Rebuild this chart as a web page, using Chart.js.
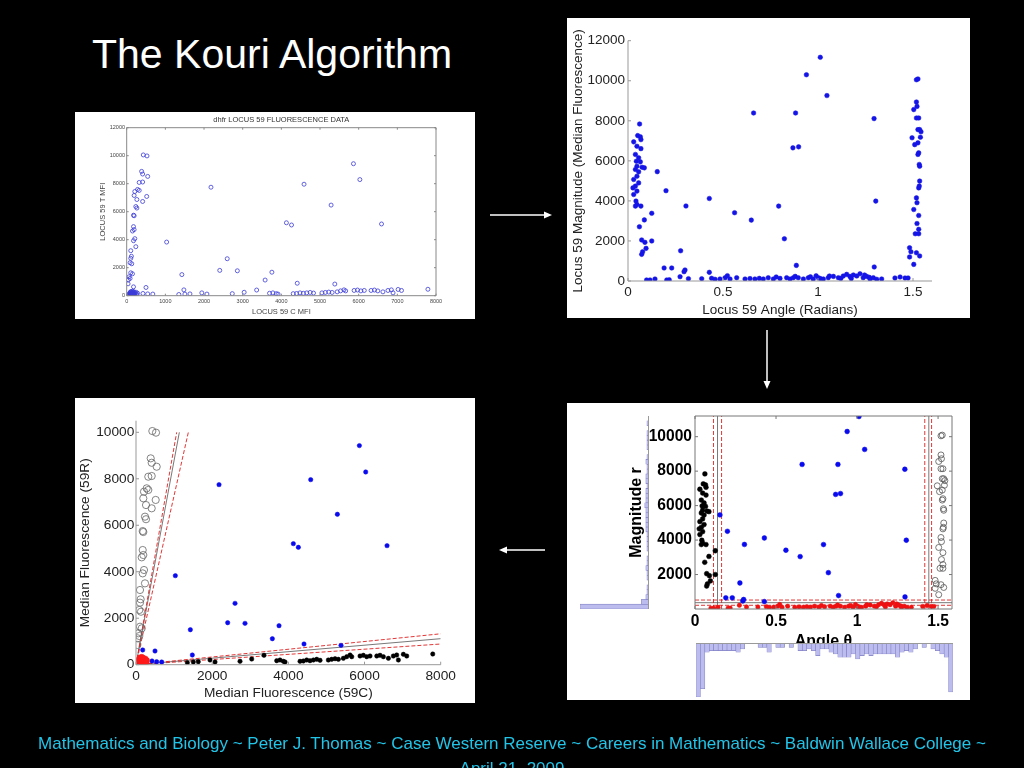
<!DOCTYPE html>
<html>
<head>
<meta charset="utf-8">
<script src="https://cdn.jsdelivr.net/npm/chart.js@4.4.1/dist/chart.umd.min.js"></script>
<style>
html, body { margin: 0; padding: 0; background: #000; width: 1024px; height: 768px; overflow: hidden; font-family: "Liberation Sans", Arial, sans-serif; }
.panel { position: absolute; background: #fff; overflow: hidden; }
.panel canvas { position: absolute; left: 0; top: 0; }
#title { position: absolute; left: 92px; top: 30px; color: #fff; font-size: 41px; line-height: 48px; white-space: nowrap; }
#footer { position: absolute; left: 0; top: 731px; width: 1024px; text-align: center; color: #22c4e8; font-size: 17px; line-height: 25px; }
#arrows { position: absolute; left: 0; top: 0; }
#hist-angle { position: absolute; left: 129px; top: 240px; width: 257px; height: 54px; background: #fff; border-top: 1px solid #999; box-sizing: border-box; }
#hist-mag { position: absolute; left: 13px; top: 13px; width: 69px; height: 193px; border-right: 1px solid #999; box-sizing: border-box; }
</style>
</head>
<body>
<div id="title">The Kouri Algorithm</div>

<div class="panel" style="left:75px; top:112px; width:400px; height:207px;">
  <canvas id="rawChart" width="400" height="207"></canvas>
</div>
<div class="panel" style="left:567px; top:18px; width:403px; height:300px;">
  <canvas id="polarChart" width="403" height="300"></canvas>
</div>
<div class="panel" style="left:567px; top:403px; width:403px; height:297px;">
  <canvas id="classChart" width="403" height="297"></canvas>
  <div id="hist-mag"><canvas id="magHistChart" width="68" height="193"></canvas></div>
  <div id="hist-angle"><canvas id="angleHistChart" width="257" height="53" style="top:0"></canvas></div>
</div>
<div class="panel" style="left:75px; top:398px; width:400px; height:305px;">
  <canvas id="backChart" width="400" height="305"></canvas>
</div>

<svg id="arrows" width="1024" height="768">
  <g stroke="#fff" stroke-width="1.5" fill="#fff">
    <line x1="490" y1="215" x2="546" y2="215"/>
    <polygon points="552,215 544,211.5 544,218.5" stroke="none"/>
    <line x1="767" y1="330" x2="767" y2="382"/>
    <polygon points="767,389 763.5,381 770.5,381" stroke="none"/>
    <line x1="545" y1="550" x2="505" y2="550"/>
    <polygon points="499,550 507,546.5 507,553.5" stroke="none"/>
  </g>
</svg>

<div id="footer">Mathematics and Biology ~ Peter J. Thomas ~ Case Western Reserve ~ Careers in Mathematics ~ Baldwin Wallace College ~<br>April 21, 2009</div>

<script>
// ---- polar view: [angle (radians), magnitude] ----
// angle near 0 (black group)
const polarLowAngle = [[0.061,7840],[0.051,7260],[0.065,7200],[0.068,7060],[0.030,6950],[0.047,6730],[0.068,6610],[0.039,6320],[0.056,6150],[0.044,5980],[0.065,5950],[0.047,5730],[0.074,5680],[0.086,5650],[0.039,5570],[0.056,5450],[0.047,5230],[0.030,5070],[0.056,4900],[0.039,4740],[0.026,4650],[0.047,4490],[0.030,4320],[0.042,3990],[0.047,3820],[0.068,3740],[0.039,3740],[0.060,2710],[0.072,2050],[0.089,1930],[0.095,1630],[0.077,1460],[0.072,1330],[0.086,3050],[0.125,3380],[0.125,2000]];
// angle near pi/2 (open circles)
const polarHighAngle = [[1.518,10050],[1.526,10090],[1.518,8940],[1.521,8720],[1.504,8560],[1.518,8140],[1.530,8140],[1.526,7560],[1.535,7560],[1.542,7450],[1.495,7150],[1.539,7180],[1.509,6810],[1.526,6900],[1.530,6400],[1.526,6320],[1.533,5820],[1.535,5730],[1.535,4990],[1.530,4650],[1.533,4740],[1.518,4150],[1.521,3910],[1.504,3570],[1.530,3270],[1.521,2870],[1.530,2580],[1.512,2360],[1.530,2360],[1.482,1660],[1.489,1460],[1.482,1200],[1.518,1410],[1.535,1250],[1.504,830]];
// in between (blue group)
const polarMiddle = [[1.012,11170],[0.939,10300],[1.047,9260],[0.661,8390],[0.882,8390],[1.295,8110],[0.868,6650],[0.898,6700],[0.154,5460],[0.200,4510],[0.305,3745],[0.428,4120],[0.561,3410],[0.649,3040],[0.793,3740],[0.823,2110],[1.304,3990],[0.277,1510],[0.886,780],[1.296,700],[0.190,650],[0.230,650],[0.295,465],[0.300,550],[0.428,433]];
// small magnitude (red group)
const polarSmallR = [[0.098,50],[0.116,50],[0.142,100],[0.204,50],[0.217,60],[0.274,215],[0.318,115],[0.388,113],[0.440,135],[0.458,85],[0.484,100],[0.511,165],[0.523,265],[0.537,100],[0.572,165],[0.616,100],[0.642,120],[0.668,100],[0.691,130],[0.712,100],[0.738,165],[0.765,100],[0.780,200],[0.800,130],[0.835,165],[0.853,100],[0.870,165],[0.880,230],[0.896,165],[0.923,100],[0.949,165],[0.960,210],[0.975,100],[0.990,260],[1.002,165],[1.012,120],[1.028,100],[1.054,165],[1.060,250],[1.081,230],[1.107,165],[1.120,130],[1.133,250],[1.151,330],[1.168,230],[1.175,120],[1.186,300],[1.204,250],[1.221,360],[1.238,165],[1.245,300],[1.256,230],[1.270,180],[1.274,100],[1.291,165],[1.309,85],[1.335,100],[1.405,150],[1.432,200],[1.458,150],[1.474,150]];

// ---- cartesian view: [59C, 59R] median fluorescence ----
const cartAlongC = [[1348,86],[1505,116],[1636,129],[1943,202],[2075,116],[2731,146],[3038,245],[3361,404],[3694,172],[3781,202],[3869,146],[3913,116],[4307,146],[4394,159],[4482,202],[4569,172],[4657,202],[4745,232],[4832,189],[5050,202],[5138,232],[5226,258],[5313,232],[5444,275],[5532,344],[5620,417],[5664,344],[5882,374],[5969,404],[6057,344],[6145,374],[6321,374],[6407,404],[6495,344],[6627,275],[6757,374],[6845,417],[6889,202],[7020,447],[7108,374],[7791,460]];
const cartAlongR = [[429,10055],[525,9985],[386,8880],[412,8690],[543,8520],[323,8090],[412,8120],[281,7590],[323,7520],[210,7445],[192,7160],[517,7090],[263,6870],[412,6730],[236,6370],[263,6260],[176,5750],[192,5710],[176,4935],[150,4620],[192,4720],[210,4075],[176,3930],[236,3500],[105,3215],[122,2815],[105,2670],[87,2355],[131,2280],[105,1635],[150,1565],[61,1350],[87,1235],[44,1135],[35,850]];
const cartMiddle = [[5865,9428],[6031,8294],[2180,7749],[4587,7964],[5287,6472],[4131,5209],[4263,5051],[6591,5123],[1033,3831],[2600,2640],[2407,1808],[2862,1779],[3755,1679],[1427,1507],[3580,1119],[4411,890],[5383,832],[1479,416],[176,633],[499,589],[420,160],[543,130],[675,116]];
const cartNearZero = [[60,120],[70,60],[80,200],[85,150],[90,90],[95,260],[100,40],[105,180],[110,120],[115,300],[120,70],[125,220],[130,150],[135,100],[140,260],[145,50],[150,180],[155,320],[160,120],[165,230],[170,80],[180,160],[185,280],[190,110],[200,200],[210,60],[220,140],[240,250],[260,100],[280,180]];

// ---- classification boundaries (dashed, solid, dashed) ----
const angleCutsLow = [0.114, 0.139, 0.164];
const angleCutsHigh = [1.418, 1.443, 1.46];
const magCuts = [215, 367, 520];
const steepLineC = [1068, 1138, 1374];   // 59C where line reaches 59R = 10000
const shallowLineR = [1330, 1120, 890];  // 59R where line reaches 59C = 8000

// ---- histograms of the polar data ----
const angleHist = [32,27,5,4,4,4,4,4,4,5,3,0,0,0,2,2,5,0,2,2,0,2,0,4,4,3,4,7,3,3,5,6,8,8,8,6,9,7,6,7,6,6,6,6,6,8,5,4,5,3,0,2,0,3,4,6,8,29];
const magHist = [62,6,2,1,1,0,1,1,2,1,1,0,1,1,1,1,2,2,2,2,2,3,2,2,2,1,2,2,1,1,2,1,0,1,1,1,1,0,1,0];

// ---- tick labels ----
const rawCTicks = [0,1000,2000,3000,4000,5000,6000,7000,8000];
const rawTTicks = [0,2000,4000,6000,8000,10000,12000];
const angleTicks = [0,0.5,1,1.5];
const magTicks = [0,2000,4000,6000,8000,10000,12000];
const classMagTicks = [2000,4000,6000,8000,10000];
const backCTicks = [0,2000,4000,6000,8000];
const backRTicks = [0,2000,4000,6000,8000,10000];

Chart.defaults.font.family = '"Liberation Sans", Arial, Helvetica, sans-serif';
Chart.defaults.animation = false;
Chart.defaults.plugins.legend.display = false;
Chart.defaults.plugins.tooltip.enabled = false;

// MATLAB style axes: axis lines (or a full box) with small inward ticks
const framePlugin = {
    id: 'frame',
    afterDatasetsDraw(chart, args, opts) {
        const { ctx, chartArea: a, scales } = chart;
        ctx.save();
        ctx.strokeStyle = opts.color;
        ctx.lineWidth = 1;
        ctx.beginPath();
        ctx.moveTo(a.left, a.top);
        ctx.lineTo(a.left, a.bottom);
        ctx.lineTo(a.right, a.bottom);
        if (opts.box) {
            ctx.lineTo(a.right, a.top);
            ctx.closePath();
        }
        ctx.stroke();
        const len = opts.tick;
        ctx.beginPath();
        scales.x.ticks.forEach(t => {
            const px = scales.x.getPixelForValue(t.value);
            ctx.moveTo(px, a.bottom); ctx.lineTo(px, a.bottom - len);
            if (opts.box) { ctx.moveTo(px, a.top); ctx.lineTo(px, a.top + len); }
        });
        scales.y.ticks.forEach(t => {
            const py = scales.y.getPixelForValue(t.value);
            ctx.moveTo(a.left, py); ctx.lineTo(a.left + len, py);
            if (opts.box) { ctx.moveTo(a.right, py); ctx.lineTo(a.right - len, py); }
        });
        ctx.stroke();
        ctx.restore();
    }
};
Chart.register(framePlugin);

function pts(list) {
    return list.map(p => ({ x: p[0], y: p[1] }));
}

function dots(list, color, r, hollow) {
    return {
        data: pts(list),
        showLine: false,
        pointRadius: r,
        pointHoverRadius: r,
        pointBorderWidth: hollow ? 0.8 : 0.5,
        pointBorderColor: color,
        pointBackgroundColor: hollow ? 'rgba(0,0,0,0)' : color,
        order: 1
    };
}

function rule(list, solid) {
    return {
        data: pts(list),
        showLine: true,
        pointRadius: 0,
        borderWidth: solid ? 0.8 : 0.9,
        borderColor: solid ? '#555' : '#e02020',
        borderDash: solid ? [] : [4, 2],
        order: 10
    };
}

function axis(o) {
    return {
        type: 'linear',
        min: o.min,
        max: o.max,
        grid: { display: false, drawTicks: false },
        border: { display: false },
        afterBuildTicks: s => { s.ticks = o.ticks.map(v => ({ value: v })); },
        afterFit: s => {
            if (o.width !== undefined) s.width = o.width;
            if (o.height !== undefined) s.height = o.height;
        },
        ticks: {
            padding: o.pad,
            color: o.color,
            font: o.font,
            autoSkip: false,
            maxRotation: 0,
            callback: v => String(v)
        },
        title: { display: true, text: o.title, color: o.color, font: o.titleFont, padding: o.titlePad }
    };
}

// 1. raw fluorescence data
new Chart(document.getElementById('rawChart'), {
    type: 'scatter',
    data: {
        datasets: [dots([].concat(cartAlongC, cartAlongR, cartMiddle, cartNearZero), '#3c3cd8', 2, true)]
    },
    options: {
        responsive: false,
        layout: { padding: { left: 0, right: 39, top: 0, bottom: 0 } },
        plugins: {
            title: { display: true, text: 'dhfr LOCUS 59 FLUORESCENCE DATA', color: '#333', fullSize: false,
                     font: { size: 7.5, weight: 'normal' }, padding: { top: 3, bottom: 3.7 } },
            frame: { color: '#888', box: true, tick: 2 }
        },
        scales: {
            x: axis({ min: 0, max: 8000, ticks: rawCTicks, height: 23.3, pad: 2.3, color: '#444',
                      font: { size: 5.5 }, title: 'LOCUS 59 C MFI', titleFont: { size: 7.5 }, titlePad: { bottom: 2.5 } }),
            y: axis({ min: 0, max: 12000, ticks: rawTTicks, width: 51.7, pad: 1.7, color: '#444',
                      font: { size: 5.5 }, title: 'LOCUS 59 T MFI', titleFont: { size: 7.5 }, titlePad: { top: 23.8 } })
        }
    }
});

// 2. polar transform
new Chart(document.getElementById('polarChart'), {
    type: 'scatter',
    data: {
        datasets: [dots([].concat(polarLowAngle, polarHighAngle, polarMiddle, polarSmallR), '#1414e6', 2.3, false)]
    },
    options: {
        responsive: false,
        layout: { padding: { left: 0, right: 38, top: 22.7, bottom: 0 } },
        plugins: { frame: { color: '#999', box: false, tick: 3 } },
        scales: {
            x: axis({ min: 0, max: 1.6, ticks: angleTicks, height: 37, pad: 2.9, color: '#222',
                      font: { size: 13.5 }, title: 'Locus 59 Angle (Radians)', titleFont: { size: 13.5 }, titlePad: { bottom: 0 } }),
            y: axis({ min: 0, max: 12000, ticks: magTicks, width: 61, pad: 3, color: '#222',
                      font: { size: 13.5 }, title: 'Locus 59 Magnitude (Median Fluorescence)', titleFont: { size: 13.5 }, titlePad: { top: 3.6 } })
        }
    }
});

// 3. classification in polar coordinates
const classTop = 11200;
const classRight = 1.586;
const classLines = [];
[angleCutsLow, angleCutsHigh].forEach(cuts => cuts.forEach((a, i) => classLines.push(rule([[a, 0], [a, classTop]], i === 1))));
magCuts.forEach((r, i) => classLines.push(rule([[0, r], [classRight, r]], i === 1)));

new Chart(document.getElementById('classChart'), {
    type: 'scatter',
    data: {
        datasets: [
            dots(polarLowAngle, '#000', 2.4, false),
            dots(polarHighAngle, '#555', 3, true),
            dots(polarMiddle, '#0a0aee', 2.4, false),
            dots(polarSmallR, '#ee1111', 2.2, false)
        ].concat(classLines)
    },
    options: {
        responsive: false,
        layout: { padding: { left: 0, right: 18, top: 13, bottom: 0 } },
        plugins: { frame: { color: '#777', box: true, tick: 3 } },
        scales: {
            x: axis({ min: 0, max: classRight, ticks: angleTicks, height: 91, pad: 2.9, color: '#000',
                      font: { size: 15.6, weight: 'bold' }, title: 'Angle \u03b8', titleFont: { size: 16, weight: 'bold' }, titlePad: { bottom: 49.2 } }),
            y: axis({ min: 0, max: classTop, ticks: classMagTicks, width: 128, pad: 3, color: '#000',
                      font: { size: 15.6, weight: 'bold' }, title: 'Magnitude r', titleFont: { size: 16, weight: 'bold' }, titlePad: { top: 60.4 } })
        }
    }
});

// histogram of angles, hanging below the axis
new Chart(document.getElementById('angleHistChart'), {
    type: 'bar',
    data: {
        labels: angleHist.map((c, i) => i),
        datasets: [{ data: angleHist, backgroundColor: '#bcbcee', borderColor: '#8080c4', borderWidth: 0.6,
                     barPercentage: 1, categoryPercentage: 1 }]
    },
    options: {
        responsive: false,
        layout: { padding: 0 },
        plugins: { frame: false },
        scales: {
            x: { display: false },
            y: { display: false, min: 0, max: 32, reverse: true }
        }
    }
});

// histogram of magnitudes, pointing left
new Chart(document.getElementById('magHistChart'), {
    type: 'bar',
    data: {
        labels: magHist.map((c, i) => i),
        datasets: [{ data: magHist, backgroundColor: '#bcbcee', borderColor: '#8080c4', borderWidth: 0.6,
                     barPercentage: 1, categoryPercentage: 1 }]
    },
    options: {
        indexAxis: 'y',
        responsive: false,
        layout: { padding: 0 },
        plugins: { frame: false },
        scales: {
            y: { display: false, reverse: true },
            x: { display: false, min: 0, max: 62, reverse: true }
        }
    }
});

// 4. classification back in fluorescence coordinates
const backLines = [];
steepLineC.forEach((c, i) => backLines.push(rule([[0, 0], [c, 10000]], i === 1)));
shallowLineR.forEach((r, i) => backLines.push(rule([[0, 0], [8000, r]], i === 1)));

new Chart(document.getElementById('backChart'), {
    type: 'scatter',
    data: {
        datasets: [
            dots(cartNearZero, '#ff1a1a', 3, false),
            dots(cartAlongC, '#000', 2.2, false),
            dots(cartMiddle, '#0a0aee', 2.2, false),
            dots(cartAlongR, '#666', 3.6, true)
        ].concat(backLines)
    },
    options: {
        responsive: false,
        layout: { padding: { left: 0, right: 34.3, top: 22.7, bottom: 0 } },
        plugins: { frame: { color: '#999', box: false, tick: 3 } },
        scales: {
            x: axis({ min: 0, max: 8000, ticks: backCTicks, height: 38.3, pad: 3.4, color: '#222',
                      font: { size: 13.7 }, title: 'Median Fluorescence (59C)', titleFont: { size: 13.7 }, titlePad: { bottom: 1.8 } }),
            y: axis({ min: 0, max: 10500, ticks: backRTicks, width: 61, pad: 1.7, color: '#222',
                      font: { size: 13.7 }, title: 'Median Fluorescence (59R)', titleFont: { size: 13.7 }, titlePad: { top: 1.8 } })
        }
    }
});
</script>
</body>
</html>
